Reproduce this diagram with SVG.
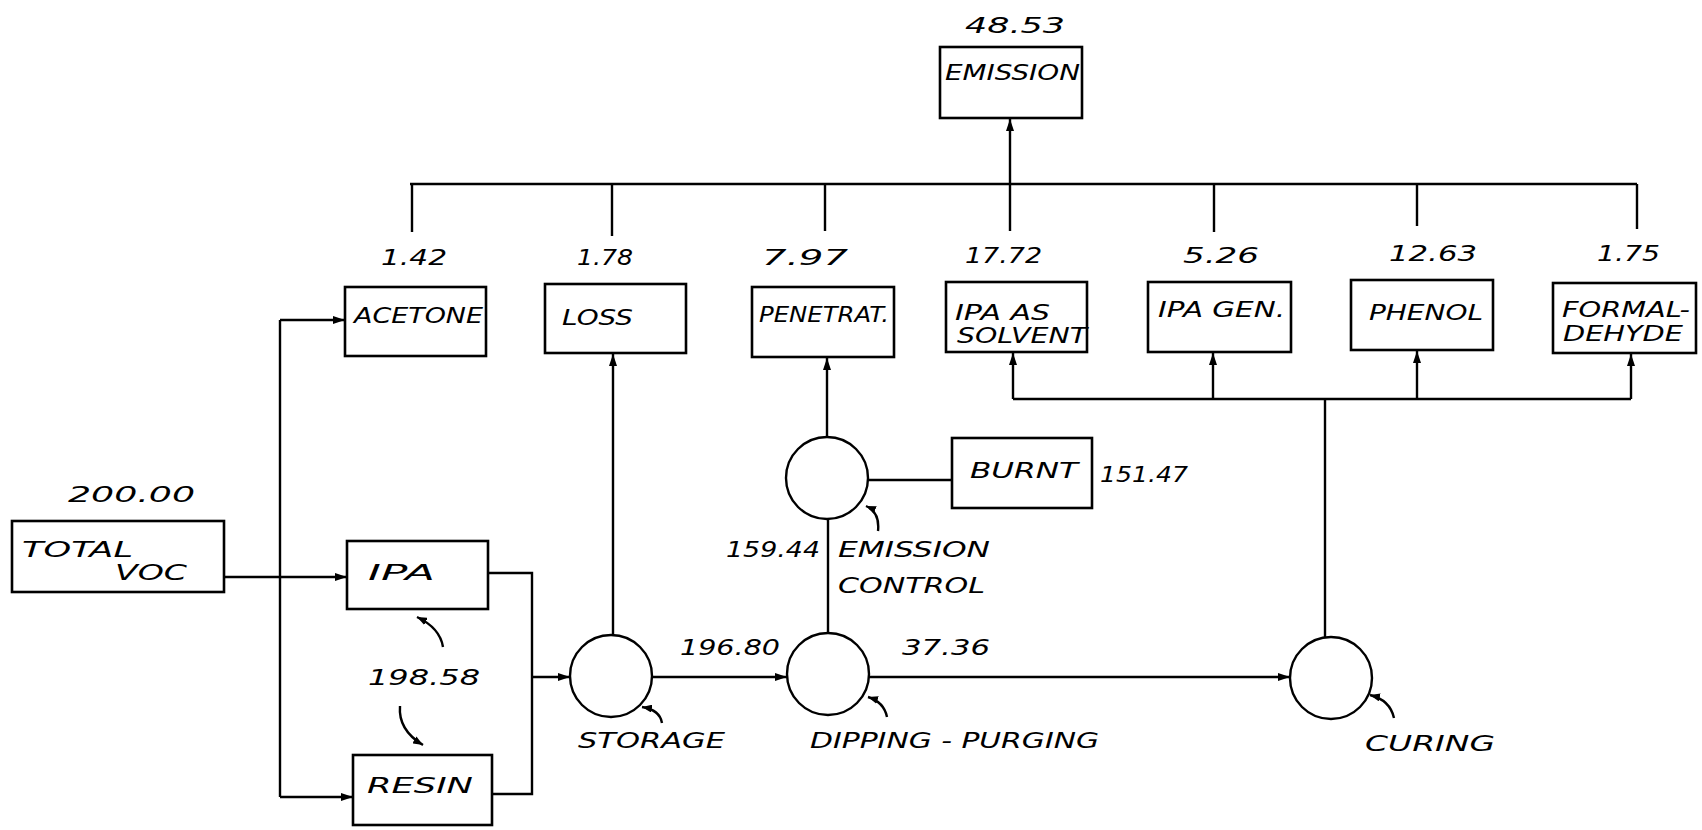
<svg xmlns="http://www.w3.org/2000/svg" width="1702" height="830" viewBox="0 0 1702 830">
<defs>
<marker id="ah" viewBox="0 0 12 8" refX="12" refY="4" markerWidth="12" markerHeight="8" markerUnits="userSpaceOnUse" orient="auto">
<path d="M0,0 L12,4 L0,8 z" fill="#000"/>
</marker>
<marker id="ahs" viewBox="0 0 10 8" refX="10" refY="4" markerWidth="10" markerHeight="8" markerUnits="userSpaceOnUse" orient="auto">
<path d="M0,0 L10,4 L0,8 z" fill="#000"/>
</marker>
</defs>
<style>
rect.b{fill:#fff;stroke:#000;stroke-width:2.6}
ellipse.c{fill:#fff;stroke:#000;stroke-width:2.4}
.ln{fill:none;stroke:#000;stroke-width:2.4}
.ar{fill:none;stroke:#000;stroke-width:2.4;marker-end:url(#ah)}
.cv{fill:none;stroke:#000;stroke-width:2.4;marker-end:url(#ahs)}
text{font-family:"DejaVu Sans","Liberation Sans",sans-serif;font-style:italic;font-size:21px;fill:#000}
text.n{font-size:22px}
</style>
<rect width="1702" height="830" fill="#fff"/>

<g id="connectors">
<path class="ln" d="M410,184 H1637"/>
<path class="ln" d="M412,184 V232 M612,184 V236 M825,184 V231 M1010,184 V231 M1214,184 V232 M1417,184 V226 M1637,184 V229"/>
<path class="ar" d="M1010,184 V119"/>
<path class="ln" d="M280,320 V797"/>
<path class="ar" d="M280,320 H345"/>
<path class="ar" d="M224,577 H347"/>
<path class="ar" d="M280,797 H353"/>
<path class="ln" d="M488,573 H532 V794 H492"/>
<path class="ar" d="M532,677 H570"/>
<path class="ar" d="M613,635 V354"/>
<path class="ar" d="M653,677 H787"/>
<path class="ln" d="M828,633 V519"/>
<path class="ar" d="M827,437 V358"/>
<path class="ln" d="M868,480 H952"/>
<path class="ar" d="M869,677 H1290"/>
<path class="ln" d="M1325,637 V399"/>
<path class="ln" d="M1013,399 H1631"/>
<path class="ar" d="M1013,399 V353"/>
<path class="ar" d="M1213,399 V353"/>
<path class="ar" d="M1417,399 V351"/>
<path class="ar" d="M1631,399 V354"/>
<path class="cv" d="M443,647 Q440,628 417,617"/>
<path class="cv" d="M400,706 Q398,730 423,745"/>
<path class="cv" d="M662,723 Q660,710 642,707"/>
<path class="cv" d="M887,717 Q884,702 868,697"/>
<path class="cv" d="M878,531 Q880,512 866,506"/>
<path class="cv" d="M1394,718 Q1390,700 1370,695"/>
</g>

<g id="emission">
<rect class="b" x="940" y="47" width="142" height="71"/>
<text x="945" y="80" textLength="135" lengthAdjust="spacingAndGlyphs" font-size="19">EMISSION</text>
<text class="n" x="965" y="33" textLength="100" lengthAdjust="spacingAndGlyphs">48.53</text>
</g>

<g id="acetone">
<rect class="b" x="345" y="287" width="141" height="69"/>
<text x="354" y="323" textLength="129" lengthAdjust="spacingAndGlyphs">ACETONE</text>
<text class="n" x="381" y="265" textLength="66" lengthAdjust="spacingAndGlyphs">1.42</text>
</g>

<g id="loss">
<rect class="b" x="545" y="284" width="141" height="69"/>
<text x="562" y="325" textLength="71" lengthAdjust="spacingAndGlyphs">LOSS</text>
<text class="n" x="577" y="265" textLength="56" lengthAdjust="spacingAndGlyphs" font-size="24">1.78</text>
</g>

<g id="penetrat">
<rect class="b" x="752" y="287" width="142" height="70"/>
<text x="759" y="322" textLength="130" lengthAdjust="spacingAndGlyphs" font-size="20">PENETRAT.</text>
<text class="n" x="762" y="265" textLength="86" lengthAdjust="spacingAndGlyphs">7.97</text>
</g>

<g id="ipa-solvent">
<rect class="b" x="946" y="282" width="141" height="70"/>
<text x="955" y="320" textLength="95" lengthAdjust="spacingAndGlyphs" font-size="19">IPA AS</text>
<text x="957" y="343" textLength="130" lengthAdjust="spacingAndGlyphs" font-size="19">SOLVENT</text>
<text class="n" x="965" y="263" textLength="77" lengthAdjust="spacingAndGlyphs">17.72</text>
</g>

<g id="ipa-gen">
<rect class="b" x="1148" y="282" width="143" height="70"/>
<text x="1158" y="317" textLength="127" lengthAdjust="spacingAndGlyphs">IPA GEN.</text>
<text class="n" x="1183" y="263" textLength="76" lengthAdjust="spacingAndGlyphs">5.26</text>
</g>

<g id="phenol">
<rect class="b" x="1351" y="280" width="142" height="70"/>
<text x="1369" y="320" textLength="114" lengthAdjust="spacingAndGlyphs">PHENOL</text>
<text class="n" x="1389" y="261" textLength="88" lengthAdjust="spacingAndGlyphs">12.63</text>
</g>

<g id="formaldehyde">
<rect class="b" x="1553" y="283" width="143" height="70"/>
<text x="1562" y="317" textLength="128" lengthAdjust="spacingAndGlyphs" font-size="19">FORMAL-</text>
<text x="1563" y="341" textLength="120" lengthAdjust="spacingAndGlyphs" font-size="19">DEHYDE</text>
<text class="n" x="1597" y="261" textLength="63" lengthAdjust="spacingAndGlyphs">1.75</text>
</g>

<g id="total-voc">
<rect class="b" x="12" y="521" width="212" height="71"/>
<text x="22" y="557" textLength="111" lengthAdjust="spacingAndGlyphs" font-size="19">TOTAL</text>
<text x="115" y="580" textLength="72" lengthAdjust="spacingAndGlyphs" font-size="19">VOC</text>
<text class="n" x="68" y="502" textLength="127" lengthAdjust="spacingAndGlyphs">200.00</text>
</g>

<g id="ipa">
<rect class="b" x="347" y="541" width="141" height="68"/>
<text x="368" y="580" textLength="67" lengthAdjust="spacingAndGlyphs">IPA</text>
</g>

<g id="resin">
<rect class="b" x="353" y="755" width="139" height="70"/>
<text x="367" y="793" textLength="106" lengthAdjust="spacingAndGlyphs">RESIN</text>
</g>

<text class="n" x="368" y="685" textLength="112" lengthAdjust="spacingAndGlyphs">198.58</text>

<g id="storage">
<ellipse class="c" cx="611" cy="676" rx="41" ry="41"/>
<text x="578" y="748" textLength="147" lengthAdjust="spacingAndGlyphs">STORAGE</text>
</g>

<text class="n" x="680" y="655" textLength="100" lengthAdjust="spacingAndGlyphs">196.80</text>
<text class="n" x="902" y="655" textLength="88" lengthAdjust="spacingAndGlyphs">37.36</text>

<g id="dipping-purging">
<ellipse class="c" cx="828" cy="674" rx="41" ry="41"/>
<text x="810" y="748" textLength="289" lengthAdjust="spacingAndGlyphs">DIPPING - PURGING</text>
</g>

<g id="emission-control">
<ellipse class="c" cx="827" cy="478" rx="41" ry="41"/>
<text x="838" y="557" textLength="152" lengthAdjust="spacingAndGlyphs">EMISSION</text>
<text x="838" y="593" textLength="147" lengthAdjust="spacingAndGlyphs">CONTROL</text>
</g>

<text class="n" x="726" y="557" textLength="94" lengthAdjust="spacingAndGlyphs">159.44</text>

<g id="burnt">
<rect class="b" x="952" y="438" width="140" height="70"/>
<text x="970" y="478" textLength="108" lengthAdjust="spacingAndGlyphs">BURNT</text>
<text class="n" x="1100" y="482" textLength="88" lengthAdjust="spacingAndGlyphs">151.47</text>
</g>

<g id="curing">
<ellipse class="c" cx="1331" cy="678" rx="41" ry="41"/>
<text x="1365" y="751" textLength="130" lengthAdjust="spacingAndGlyphs">CURING</text>
</g>
</svg>
